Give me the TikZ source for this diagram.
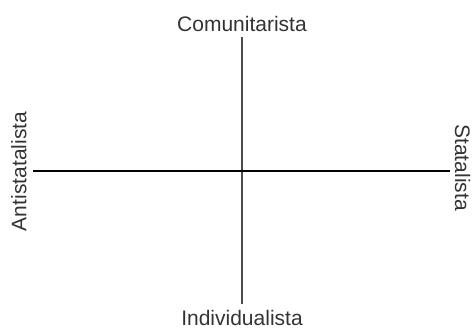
\documentclass[tikz,border=0pt]{standalone}
\usepackage{fontspec}
\setmainfont{Liberation Sans}
\begin{document}
\begin{tikzpicture}[x=1pt,y=1pt,
  lab/.style={font=\fontsize{21}{24}\selectfont, text=black!80, inner sep=0pt},
  vaxis/.style={line width=1.2pt, draw=black!70},
  haxis/.style={line width=1.2pt, draw=black}]
\useasboundingbox (0,0) rectangle (474,329);
\node[lab, anchor=base] (top) at (242,297) {Comunitarista};
\node[lab, anchor=base] (bot) at (242,3) {Individualista};
\node[lab, rotate=90, anchor=base] (left) at (26.5,157.5) {Antistatalista};
\node[lab, rotate=-90, anchor=base] (right) at (455,161.5) {Statalista};
\coordinate (vtop) at (242,291.5);
\coordinate (vbot) at (242,25);
\coordinate (hl) at (33,158);
\coordinate (hr) at (450,158);
\draw[vaxis] (vtop) -- (vbot);
\draw[haxis] (hl) -- (hr);
\end{tikzpicture}
\end{document}
